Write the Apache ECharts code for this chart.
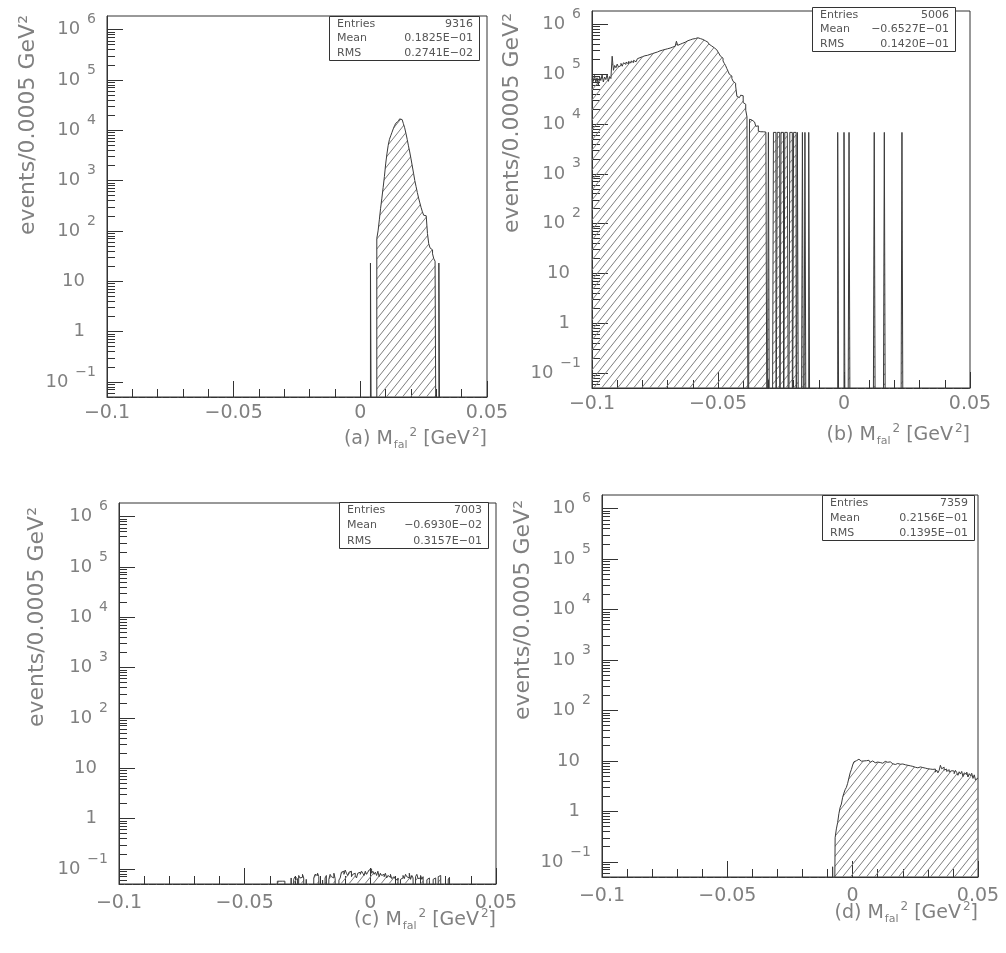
<!DOCTYPE html>
<html><head><meta charset="utf-8">
<script src="https://cdn.jsdelivr.net/npm/echarts@6/dist/echarts.min.js"></script>
<style>html,body{margin:0;padding:0;background:#fff}#c{width:1006px;height:953px}</style>
</head><body><div id="c"></div>
<script>
// ---------------- DATA ----------------
const BIN = 0.0005, NBINS = 300, X_MIN = -0.1, X_MAX = 0.05;
const LOG_MIN = -1.3, LOG_MAX = 6.27;
const xTickLabels = ['−0.1', '−0.05', '0', '0.05'];
const yTickValues = [0.1, 1, 10, 100, 1000, 10000, 100000, 1000000];
const yTickBase = ['10', '1', '10', '10', '10', '10', '10', '10'];
const yTickExp = ['−1', '', '', '2', '3', '4', '5', '6'];
const yMinorMantissa = [2, 3, 4, 5, 6, 7, 8, 9];
const panelLetters = ['(a)', '(b)', '(c)', '(d)'];
const yTitle = 'events/0.0005 GeV²';
const statNames = ['Entries', 'Mean', 'RMS'];
const statEntries = ['9316', '5006', '7003', '7359'];
const statMean = ['0.1825E−01', '−0.6527E−01', '−0.6930E−02', '0.2156E−01'];
const statRms = ['0.2741E−02', '0.1420E−01', '0.3157E−01', '0.1395E−01'];

// (a) bin contents from bin 208 (x = 0.004)
const aStartBin = 208;
const aValues = [23, 0, 0, 0, 0,
  71, 100, 166, 282, 447, 724, 1200, 2140, 3390, 5010,
  6600, 7760, 9120, 10700, 12300, 13800, 15100, 16200, 16800, 16300,
  15300, 13500, 11200, 8700, 6600, 4900, 3700, 2700, 1950, 1400,
  1000, 760, 580, 450, 360, 290, 240, 205, 200, 214,
  89, 56, 46, 42, 35, 28, 25, 0, 0, 23];

// (b) main body from bin 0 (x = -0.1)
const bMainStartBin = 0;
const bMain = [80000, 72000, 95000, 68000, 85000, 60000, 90000, 75000, 98000, 70000, 88000, 78000, 100000, 72000, 90000, 82000,
  230000,
  120000, 150000, 135000, 160000, 140000,
  150000, 165000, 145000, 170000, 158000, 175000, 162000, 180000, 168000, 185000, 172000, 190000, 178000, 195000,
  205000, 215000, 200000, 225000, 218000, 235000, 222000, 240000, 232000, 250000, 238000, 260000, 248000, 270000, 262000,
  280000, 270000, 295000, 285000, 305000, 292000, 315000, 300000, 325000, 310000, 335000, 320000, 350000,
  340000, 365000, 355000, 460000, 380000, 400000, 385000, 420000, 405000, 440000, 425000, 470000,
  455000, 490000, 470000, 510000, 495000, 520000, 505000, 540000, 555000,
  520000, 535000, 500000, 490000, 470000, 455000, 440000, 420000,
  400000, 370000, 380000, 340000, 330000, 310000, 300000, 280000,
  255000, 230000, 210000, 185000, 165000, 150000,
  130000, 115000, 100000, 92000,
  82000, 72000, 66000, 58000,
  36000, 34000, 35000, 38000, 37000, 27000, 25000, 19000, 14000];
// (b) shoulder after the empty bin 124
const bTailStartBin = 125;
const bTail = [12500, 12000, 11800, 11000, 10500, 9000, 9200, 7200, 7000, 6900, 7000, 6800, 6900, 6800];
// (b) isolated single-entry bins
const bSpikeBins = [140, 144, 145, 147, 148, 150, 151, 153, 154, 155, 157, 158, 160, 161, 163, 167, 169, 172, 195, 200, 204, 224, 232, 246];
const bSpikeValue = 6800;

// (c) bin contents from bin 120 (x = -0.04)
const cStartBin = 120;
const cValues = [0, 0, 0, 0, 0, 0, 0.057, 0.057, 0.057, 0.057,
  0.057, 0.057, 0, 0, 0, 0, 0, 0.066, 0, 0.062,
  0.07, 0.064, 0, 0.074, 0.066, 0.068, 0.078, 0.066, 0, 0.062,
  0, 0, 0, 0, 0, 0.066, 0.078, 0.074, 0.082, 0.07,
  0, 0, 0.06, 0, 0.066, 0.074, 0, 0.062, 0.078, 0.07,
  0.066, 0.082, 0.064, 0, 0, 0.06, 0.066, 0.086, 0.09, 0.078,
  0.095, 0.082, 0.074, 0.086, 0.09, 0.07, 0.078, 0.082, 0.074, 0.066,
  0.082, 0.086, 0.078, 0.09, 0.082, 0.074, 0.09, 0.078, 0.086, 0.095,
  0.1, 0.082, 0.09, 0.078, 0.086, 0.074, 0.09, 0.07, 0.082, 0.074,
  0.078, 0.07, 0.082, 0.066, 0.074, 0.068, 0.078, 0.064, 0.07, 0.066,
  0.062, 0.06, 0.066, 0, 0.062, 0.066, 0.074, 0.064, 0.078, 0.07,
  0.066, 0.082, 0.062, 0.074, 0.066, 0, 0.07, 0.078, 0.064, 0.066,
  0.074, 0.062, 0.07, 0, 0, 0.061, 0.066, 0.058, 0, 0,
  0.062, 0.066, 0, 0, 0.07, 0.074, 0.066, 0, 0, 0,
  0, 0, 0.062, 0.068, 0, 0, 0, 0, 0, 0];

// (d) bin contents from bin 184 (x = -0.008)
const dStartBin = 184;
const dValues = [0.08, 0,
  0.3, 0.45, 0.6, 0.9, 1.2, 1.4, 1.9, 2.3, 2.7, 3.0, 3.6, 4.6, 5.8, 6.8, 8.3,
  9.6, 10.1, 9.8, 10.8, 10.2, 9.9, 10.5, 10.0, 10.7,
  10.1, 9.6, 10.3, 9.9, 9.4, 10.0, 9.7, 9.2, 9.8, 9.5,
  9.9, 9.3, 9.6, 9.0, 9.5, 9.8, 9.1, 9.4, 8.9, 9.6,
  9.2, 8.8, 9.5, 8.5, 7.9, 8.9, 9.3, 8.6, 9.0, 8.7,
  8.9, 8.4, 8.8, 8.2, 8.6, 8.0, 8.5, 7.8, 8.3, 7.5,
  7.9, 7.3, 7.8, 7.6, 8.1, 7.4, 7.9, 7.2, 7.7, 7.0,
  7.5, 6.9, 7.4, 6.8, 6.4, 6.9, 6.0, 6.6, 5.8, 6.5,
  8.2, 7.0, 7.5, 6.6, 6.9, 6.2, 6.7, 6.0, 6.4, 5.9,
  6.3, 5.6, 6.5, 5.9, 5.2, 6.1, 5.5, 6.2, 4.9, 5.8,
  5.4, 6.0, 4.8, 5.6, 5.1, 5.7, 4.5, 5.3, 4.2, 4.6];

// ---------------- LAYOUT / STYLE ----------------
const FONT = 'DejaVu Sans';
const INK = '#333';
const LABEL = '#808080';
const grids = [
  {left: 107, top: 16, width: 380, height: 381},
  {left: 592, top: 11, width: 378, height: 377},
  {left: 119, top: 503, width: 377, height: 381},
  {left: 602, top: 495, width: 376, height: 382}
];
const xLabelMargin = [7, 7, 10, 10];
const yTitlePos = [[28, 125], [512, 123], [37, 617], [523, 610]];
const xTitlePos = [[487, 439], [970, 435], [496, 920], [978, 913]];
const statBox = [
  {x: 329, y: 16, w: 150, h: 44},
  {x: 812, y: 7, w: 143, h: 44},
  {x: 339, y: 502, w: 149, h: 46},
  {x: 822, y: 495, w: 152, h: 45}
];

// ---------------- BUILD ----------------
function fillBins(parts) {
  const arr = new Array(NBINS).fill(0);
  parts.forEach(([start, vals]) => vals.forEach((v, i) => { arr[start + i] = v; }));
  return arr;
}
const binsA = fillBins([[aStartBin, aValues]]);
const binsB = fillBins([[bMainStartBin, bMain], [bTailStartBin, bTail]]);
bSpikeBins.forEach(k => { binsB[k] = bSpikeValue; });
const binsC = fillBins([[cStartBin, cValues]]);
const binsD = fillBins([[dStartBin, dValues]]);
const allBins = [binsA, binsB, binsC, binsD];

const FLOOR = 1e-4; // empty bins drop below the axis (log scale)
function stepData(bins) {
  const d = [];
  for (let i = 0; i < NBINS; i++) d.push([+(X_MIN + i * BIN).toFixed(4), bins[i] > 0 ? bins[i] : FLOOR]);
  d.push([X_MAX, bins[NBINS - 1] > 0 ? bins[NBINS - 1] : FLOOR]);
  return d;
}

function makeHatch() {
  const W = 8, H = 10;
  const c = document.createElement('canvas');
  c.width = W; c.height = H;
  const g = c.getContext('2d');
  g.strokeStyle = '#7d7d7d';
  g.lineWidth = 1;
  g.beginPath();
  for (const o of [-1, 0, 1]) {
    g.moveTo(o * W, H);
    g.lineTo(o * W + W, 0);
  }
  g.stroke();
  return c;
}
const hatch = makeHatch();

const yMinorValues = [];
for (let e = -2; e <= 6; e++) yMinorMantissa.forEach(m => yMinorValues.push(m * Math.pow(10, e)));

const yMin = Math.pow(10, LOG_MIN), yMax = Math.pow(10, LOG_MAX);

const gridOpts = [], xAxes = [], yAxes = [], series = [], graphics = [];
const richY = {
  b: {fontSize: 18, lineHeight: 36, verticalAlign: 'middle', color: LABEL, fontFamily: FONT},
  s: {fontSize: 14, lineHeight: 14, verticalAlign: 'top', padding: [1, 0, 0, 7], color: LABEL, fontFamily: FONT},
  p: {fontSize: 18, lineHeight: 36, padding: [0, 11, 0, 0], color: LABEL, fontFamily: FONT}
};
function yFormatter(v) {
  const i = yTickValues.findIndex(t => Math.abs(Math.log10(t) - Math.log10(v)) < 1e-6);
  if (i < 0) return '';
  return yTickExp[i] ? '{b|' + yTickBase[i] + '}{s|' + yTickExp[i] + '}' : '{p|' + yTickBase[i] + '}';
}

grids.forEach((g, p) => {
  gridOpts.push(Object.assign({show: true, borderColor: INK, borderWidth: 1, backgroundColor: 'transparent',
    containLabel: false, outerBoundsMode: 'none'}, g));
  xAxes.push({
    type: 'value', gridIndex: p, min: X_MIN, max: X_MAX, interval: 0.05,
    axisLine: {show: true, onZero: false, lineStyle: {color: INK, width: 1}},
    splitLine: {show: false},
    axisTick: {show: true, inside: true, length: 16, lineStyle: {color: INK}},
    minorTick: {show: true, splitNumber: 5, length: 8, lineStyle: {color: INK}},
    axisLabel: {
      fontSize: 19, color: LABEL, fontFamily: FONT, margin: xLabelMargin[p],
      formatter: v => xTickLabels[Math.round((v - X_MIN) / 0.05)] || ''
    }
  });
  yAxes.push({
    type: 'log', logBase: 10, gridIndex: p, position: 'left', min: yMin, max: yMax,
    axisLine: {show: true, onZero: false, lineStyle: {color: INK, width: 1}},
    splitLine: {show: false},
    axisTick: {show: true, inside: true, length: 16, customValues: yTickValues, lineStyle: {color: INK}},
    axisLabel: {customValues: yTickValues, formatter: yFormatter, rich: richY, margin: 11, color: LABEL}
  });
  yAxes.push({
    type: 'log', logBase: 10, gridIndex: p, position: 'left', min: yMin, max: yMax,
    axisLine: {show: false, onZero: false}, splitLine: {show: false}, axisLabel: {show: false},
    axisTick: {show: true, inside: true, length: 8, customValues: yMinorValues, lineStyle: {color: INK}}
  });
  series.push({
    type: 'line', xAxisIndex: p, yAxisIndex: 2 * p, data: stepData(allBins[p]),
    step: 'end', symbol: 'none', showSymbol: false, clip: true, silent: true, animation: false,
    lineStyle: {color: '#3a3a3a', width: 1},
    areaStyle: {origin: 'start', color: {image: hatch, repeat: 'repeat'}, opacity: 1}
  });

  // y title
  graphics.push({
    type: 'text', x: yTitlePos[p][0], y: yTitlePos[p][1], rotation: Math.PI / 2, z: 100,
    style: {text: yTitle, fontSize: 22, fontFamily: FONT, fill: LABEL, align: 'center', verticalAlign: 'middle'}
  });
  // x title
  graphics.push({
    type: 'text', x: xTitlePos[p][0], y: xTitlePos[p][1], z: 100,
    style: {
      text: panelLetters[p] + ' M{sub|fal}{sup|2} [GeV{sup|2}]',
      fontSize: 19, fontFamily: FONT, fill: LABEL, lineHeight: 28, align: 'right', verticalAlign: 'middle',
      rich: {
        sub: {fontSize: 11, lineHeight: 11, verticalAlign: 'bottom', padding: [0, 0, 2, 1], fill: LABEL, fontFamily: FONT},
        sup: {fontSize: 12, lineHeight: 12, verticalAlign: 'top', padding: [2, 0, 0, 2], fill: LABEL, fontFamily: FONT}
      }
    }
  });
  // stats box
  const b = statBox[p];
  graphics.push({
    type: 'rect', z: 100, shape: {x: b.x + 0.5, y: b.y + 0.5, width: b.w, height: b.h},
    style: {fill: '#fff', stroke: INK, lineWidth: 1}
  });
  const vals = [statEntries[p], statMean[p], statRms[p]];
  statNames.forEach((n, r) => {
    const cy = b.y + b.h * (r + 0.5) / 3 + 0.5;
    graphics.push({type: 'text', z: 101, x: b.x + 8, y: cy,
      style: {text: n, fontSize: 11, fontFamily: FONT, fill: '#555', align: 'left', verticalAlign: 'middle'}});
    graphics.push({type: 'text', z: 101, x: b.x + b.w - 6, y: cy,
      style: {text: vals[r], fontSize: 11, fontFamily: FONT, fill: '#555', align: 'right', verticalAlign: 'middle'}});
  });
});

const chart = echarts.init(document.getElementById('c'), null, {renderer: 'canvas'});
chart.setOption({
  animation: false,
  backgroundColor: '#fff',
  grid: gridOpts,
  xAxis: xAxes,
  yAxis: yAxes,
  series: series,
  graphic: graphics
});
</script>
</body></html>
